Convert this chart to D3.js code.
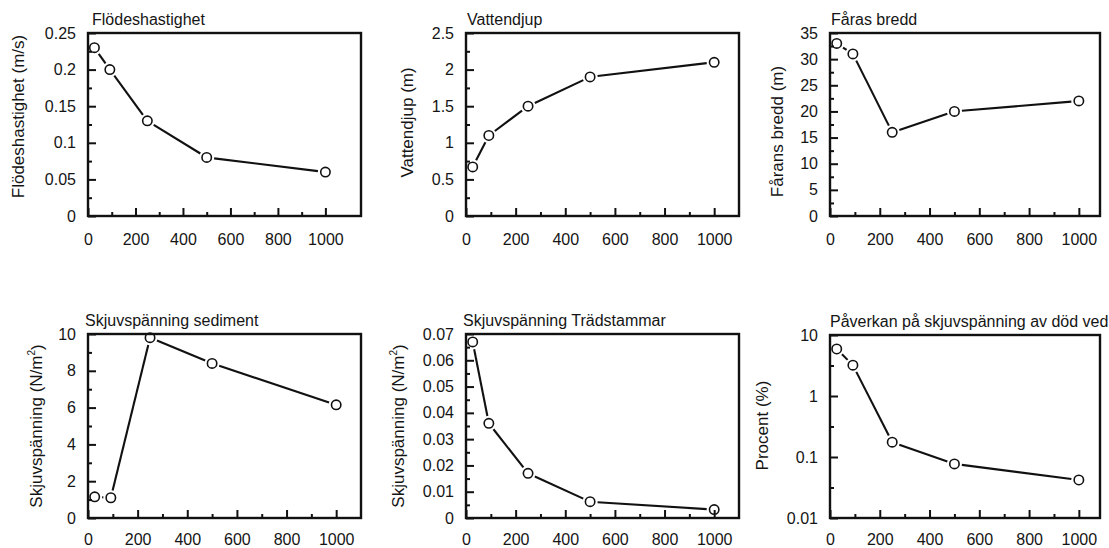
<!DOCTYPE html>
<html><head><meta charset="utf-8">
<script src="https://cdn.jsdelivr.net/npm/d3@7"></script>
<style>
body{margin:0;background:#fff}
text{font-family:"Liberation Sans",Arial,Helvetica,sans-serif;fill:#151515}
</style>
</head><body><svg id="c" width="1109" height="548"></svg>
<script>
// ---- data ----
const distance = [27, 92, 250, 500, 1000];
const flowVelocity = [0.23, 0.20, 0.13, 0.08, 0.06];
const waterDepth = [0.67, 1.10, 1.50, 1.90, 2.10];
const channelWidth = [33, 31, 16, 20, 22];
const shearSediment = [1.15, 1.1, 9.8, 8.4, 6.15];
const shearTrunks = [0.067, 0.036, 0.017, 0.0062, 0.0032];
const woodEffect = [5.9, 3.2, 0.175, 0.077, 0.042];

const xTickLabels = [0, 200, 400, 600, 800, 1000];
const xMinorTicks = [100, 300, 500, 700, 900];

const yTicks1 = [0, 0.05, 0.1, 0.15, 0.2, 0.25];
const yMinor1 = [0.025, 0.075, 0.125, 0.175, 0.225];
const yTicks2 = [0, 0.5, 1, 1.5, 2, 2.5];
const yMinor2 = [0.25, 0.75, 1.25, 1.75, 2.25];
const yTicks3 = [0, 5, 10, 15, 20, 25, 30, 35];
const yMinor3 = [2.5, 7.5, 12.5, 17.5, 22.5, 27.5, 32.5];
const yTicks4 = [0, 2, 4, 6, 8, 10];
const yMinor4 = [1, 3, 5, 7, 9];
const yTicks5 = [0, 0.01, 0.02, 0.03, 0.04, 0.05, 0.06, 0.07];
const yMinor5 = [0.005, 0.015, 0.025, 0.035, 0.045, 0.055, 0.065];
const yTicks6 = [0.01, 0.1, 1, 10];
const yMinor6 = [0.0316, 0.316, 3.16];

const titles = ["Flödeshastighet", "Vattendjup", "Fåras bredd",
  "Skjuvspänning sediment", "Skjuvspänning Trädstammar", "Påverkan på skjuvspänning av död ved"];
const yLabels = ["Flödeshastighet (m/s)", "Vattendjup (m)", "Fårans bredd (m)",
  "Skjuvspänning (N/m|2|)", "Skjuvspänning (N/m|2|)", "Procent (%)"];

// ---- layout ----
const panels = [
  {vals: flowVelocity, ticks: yTicks1, minor: yMinor1, dom: [0, 0.25], x0: 88, x1: 361, y0: 33, y1: 216, xMax: 1150, lx: 18, ly: -8, pad: 18, tx: 4},
  {vals: waterDepth, ticks: yTicks2, minor: yMinor2, dom: [0, 2.5], x0: 466, x1: 739, y0: 33, y1: 216, xMax: 1100, lx: 407, ly: -2, pad: 18, tx: 1},
  {vals: channelWidth, ticks: yTicks3, minor: yMinor3, dom: [0, 35], x0: 830, x1: 1100, y0: 33, y1: 216, xMax: 1085, lx: 777, ly: 7, pad: 18, tx: 1},
  {vals: shearSediment, ticks: yTicks4, minor: yMinor4, dom: [0, 10], x0: 88, x1: 361, y0: 334, y1: 518, xMax: 1100, lx: 36, ly: 0, pad: 16, tx: -3},
  {vals: shearTrunks, ticks: yTicks5, minor: yMinor5, dom: [0, 0.07], x0: 466, x1: 739, y0: 334, y1: 518, xMax: 1100, lx: 398, ly: 0, pad: 16, tx: -3},
  {vals: woodEffect, ticks: yTicks6, minor: yMinor6, dom: [0.01, 10], x0: 830, x1: 1100, y0: 335, y1: 518, xMax: 1085, lx: 762, ly: -1, pad: 16, tx: 0, log: true}
];

const svg = d3.select("#c");
const fmt = d3.format("~g");
const FS = 16;

panels.forEach((p, i) => {
  const g = svg.append("g");
  const x = d3.scaleLinear().domain([0, p.xMax]).range([p.x0, p.x1]);
  const y = (p.log ? d3.scaleLog() : d3.scaleLinear()).domain(p.dom).range([p.y1, p.y0]);

  const gx = g.append("g").attr("transform", `translate(0,${p.y1})`)
    .call(d3.axisBottom(x).tickValues(xTickLabels).tickSize(-8).tickPadding(p.pad).tickFormat(fmt));
  const gxm = g.append("g").attr("transform", `translate(0,${p.y1})`)
    .call(d3.axisBottom(x).tickValues(xMinorTicks).tickSize(-4).tickFormat(""));
  const gy = g.append("g").attr("transform", `translate(${p.x0},0)`)
    .call(d3.axisLeft(y).tickValues(p.ticks).tickSize(-8).tickPadding(12).tickFormat(fmt));
  const gym = g.append("g").attr("transform", `translate(${p.x0},0)`)
    .call(d3.axisLeft(y).tickValues(p.minor).tickSize(-4).tickFormat(""));
  [gx, gxm, gy, gym].forEach(a => {
    a.select(".domain").remove();
    a.selectAll("line").attr("stroke", "#111").attr("stroke-width", 2);
    a.selectAll("text").attr("font-size", FS).attr("font-family", "Liberation Sans, Arial, sans-serif").attr("fill", "#151515");
  });

  g.append("rect").attr("x", p.x0).attr("y", p.y0)
    .attr("width", p.x1 - p.x0).attr("height", p.y1 - p.y0)
    .attr("fill", "none").attr("stroke", "#111").attr("stroke-width", 2.4);

  g.append("text").attr("x", p.x0 + p.tx).attr("y", p.y0 - 8)
    .attr("font-size", FS).text(titles[i]);

  const parts = yLabels[i].split("|");
  const cy = (p.y0 + p.y1) / 2 + p.ly;
  const lab = g.append("text").attr("transform", `translate(${p.lx},${cy}) rotate(-90)`)
    .attr("text-anchor", "middle").attr("dy", "0.35em").attr("font-size", 17);
  lab.append("tspan").text(parts[0]);
  if (parts.length > 1) {
    lab.append("tspan").attr("font-size", 10).attr("dy", "-0.7em").text(parts[1]);
    lab.append("tspan").attr("dy", "0.45em").text(parts[2]);
  }

  const pts = distance.map((d, k) => [x(d), y(p.vals[k])]);
  const gap = 7.5;
  for (let k = 0; k < pts.length - 1; k++) {
    const [ax, ay] = pts[k], [bx, by] = pts[k + 1];
    const dx = bx - ax, dy = by - ay, len = Math.hypot(dx, dy);
    if (len <= 2 * gap + 0.5) continue;
    const ux = dx / len, uy = dy / len;
    g.append("line")
      .attr("x1", ax + ux * gap).attr("y1", ay + uy * gap)
      .attr("x2", bx - ux * gap).attr("y2", by - uy * gap)
      .attr("stroke", "#111").attr("stroke-width", 2.1);
  }
  g.selectAll("circle.m").data(pts).enter().append("circle").attr("class", "m")
    .attr("cx", d => d[0]).attr("cy", d => d[1]).attr("r", 4.7)
    .attr("fill", "none").attr("stroke", "#111").attr("stroke-width", 1.6);
});
</script>
</body></html>
